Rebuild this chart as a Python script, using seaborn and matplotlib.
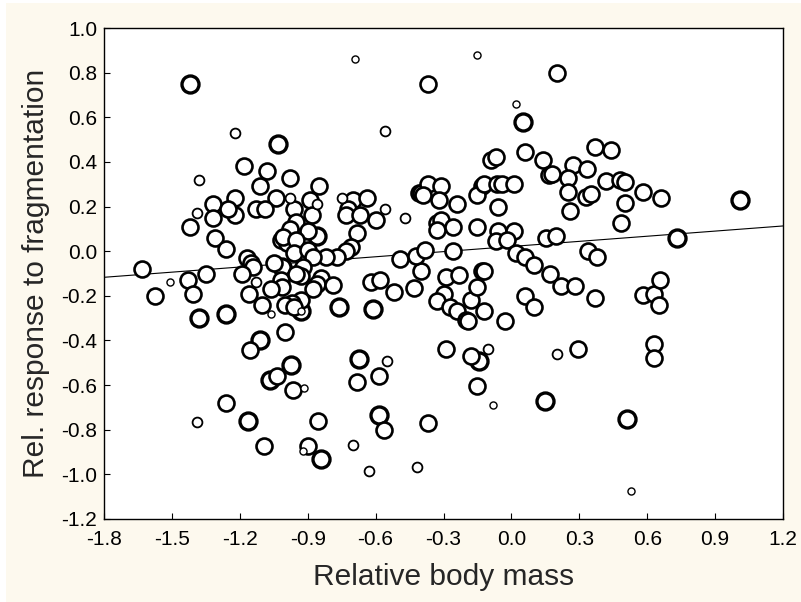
import numpy as np
import pandas as pd
import matplotlib
matplotlib.use('Agg')
import matplotlib.pyplot as plt
from matplotlib.patches import Rectangle
import seaborn as sns

# values, grouped by circle size
large_mass = [-1.42, 0.05, -1.03, -0.86, -1.015, -1.38, -1.26, -0.93, -0.76, -0.61, -1.11,
              -0.975, -1.065, -1.165, -0.84, -0.675, -0.585, -0.145, 1.01, 0.73, 0.15, 0.51]
large_resp = [0.75, 0.58, 0.48, 0.07, -0.07, -0.30, -0.28, -0.27, -0.25, -0.26, -0.40,
              -0.51, -0.575, -0.76, -0.93, -0.485, -0.735, -0.49, 0.23, 0.06, -0.67, -0.75]

medium_mass = [
    -0.37, 0.20,
    -1.18, -1.08, -0.98, -1.11, -0.85, -1.04, -1.22, -0.89, -1.32, -1.32, -1.42, -1.22,
    -1.25, -1.13, -1.09, -0.96, -0.95, -0.88, -0.98, -1.02, -0.90, -1.31, -1.26, -0.70,
    -0.64, -0.72, -0.73, -0.67, -0.60, -0.68, -0.71, -0.73, -0.99, -1.01, -0.95, -0.96,
    -0.90, -0.77, -0.82, -0.875,
    -1.63, -1.43, -1.35, -1.17, -1.15, -1.14, -1.19, -1.05, -1.02, -1.015, -1.06, -0.92,
    -0.93, -0.95, -0.84, -0.86, -0.79, -0.875, -0.93, -0.97, -1.575, -1.405, -1.16, -1.10,
    -1.00, -0.96, -1.00, -1.155, -1.035, -0.965, -1.26, -0.855, -1.095, -0.90, -0.585,
    -0.68, -0.565,
    -0.62, -0.58, -0.52, -0.49, -0.43, -0.40, -0.42, -0.38, -0.41, -0.40, -0.37, -0.31,
    -0.32, -0.39, -0.24, -0.33, -0.31, -0.33, -0.26, -0.15, -0.13, -0.15, -0.09, -0.26,
    -0.29, -0.23, -0.30, -0.33, -0.27, -0.24, -0.18, -0.20, -0.15, -0.13, -0.12, -0.12,
    -0.065, -0.04, 0.01, -0.06, -0.06, 0.01, -0.07, -0.02, 0.02, 0.06, 0.10, -0.12,
    -0.03, -0.07, -0.29, -0.18, -0.15, -0.37, -0.19,
    0.06, 0.14, 0.37, 0.44, 0.27, 0.335, 0.165, 0.18, 0.25, 0.42, 0.48, 0.50, 0.58, 0.66,
    0.25, 0.33, 0.35, 0.50, 0.26, 0.485, 0.155, 0.195, 0.34, 0.38, 0.17, 0.22, 0.28, 0.06,
    0.10, 0.37, 0.58, 0.63, 0.655, 0.65, 0.63, 0.63, 0.295,
]
medium_resp = [
    0.75, 0.80,
    0.38, 0.36, 0.33, 0.29, 0.29, 0.24, 0.24, 0.23, 0.21, 0.15, 0.11, 0.16,
    0.19, 0.19, 0.19, 0.19, 0.13, 0.16, 0.10, 0.05, 0.09, 0.06, 0.01, 0.23,
    0.24, 0.19, 0.16, 0.16, 0.14, 0.08, 0.02, 0.00, 0.035, 0.065, 0.05, -0.01,
    0.005, -0.025, -0.025, -0.025,
    -0.08, -0.13, -0.10, -0.03, -0.055, -0.07, -0.10, -0.055, -0.13, -0.16, -0.17, -0.07,
    -0.11, -0.10, -0.12, -0.145, -0.15, -0.17, -0.22, -0.23, -0.20, -0.19, -0.19, -0.24,
    -0.24, -0.25, -0.36, -0.445, -0.56, -0.62, -0.68, -0.76, -0.875, -0.875, -0.56,
    -0.585, -0.80,
    -0.14, -0.13, -0.185, -0.035, -0.165, -0.09, -0.02, 0.005, 0.26, 0.26, 0.30, 0.29,
    0.23, 0.25, 0.21, 0.125, 0.14, 0.095, 0.11, 0.11, 0.29, 0.25, 0.41, 0.00,
    -0.115, -0.105, -0.19, -0.225, -0.25, -0.27, -0.22, -0.31, -0.16, -0.09, -0.27, 0.30,
    0.30, 0.30, 0.30, 0.20, 0.09, 0.09, 0.045, 0.05, -0.01, -0.025, -0.06, -0.09,
    -0.315, 0.42, -0.44, -0.47, -0.605, -0.77, -0.315,
    0.445, 0.41, 0.465, 0.455, 0.385, 0.37, 0.34, 0.345, 0.33, 0.315, 0.32, 0.31, 0.265, 0.24,
    0.265, 0.245, 0.255, 0.215, 0.18, 0.125, 0.06, 0.07, 0.00, -0.025, -0.10, -0.155, -0.155, -0.20,
    -0.25, -0.21, -0.195, -0.19, -0.13, -0.24, -0.415, -0.48, -0.44,
]

small_mass = [-1.22, -0.56, -1.38, -0.98, -0.86, -1.39, -0.75, -0.56, -0.47, -1.13,
              -0.55, -0.70, -0.63, -0.105, -0.415, 0.20, -1.39]
small_resp = [0.53, 0.54, 0.32, 0.24, 0.21, 0.17, 0.24, 0.19, 0.15, -0.14,
              -0.49, -0.87, -0.985, -0.44, -0.965, -0.46, -0.765]

tiny_mass = [-0.69, -0.15, 0.02, -1.51, -1.06, -0.93, -0.915, -0.92, -0.08, 0.53]
tiny_resp = [0.86, 0.88, 0.66, -0.14, -0.28, -0.27, -0.615, -0.895, -0.69, -1.075]

# fitted line, end points
line_x = [-1.8, 1.2]
line_y = [-0.117, 0.113]

x_ticks = [-1.8, -1.5, -1.2, -0.9, -0.6, -0.3, 0.0, 0.3, 0.6, 0.9, 1.2]
y_ticks = [1.0, 0.8, 0.6, 0.4, 0.2, 0.0, -0.2, -0.4, -0.6, -0.8, -1.0, -1.2]

groups = [
    ('large', large_mass, large_resp, 150, 2.4),
    ('medium', medium_mass, medium_resp, 132, 1.9),
    ('small', small_mass, small_resp, 50, 1.3),
    ('tiny', tiny_mass, tiny_resp, 26, 1.0),
]

sns.set_style('white')
plt.rcParams['font.family'] = ['Liberation Sans', 'DejaVu Sans']

fig = plt.figure(figsize=(8.01, 6.02), dpi=100, facecolor='white')
fig.patches.append(Rectangle((6 / 801, 0), 1 - 6 / 801, 1 - 3 / 602,
                             transform=fig.transFigure, facecolor='#FDF9EE',
                             edgecolor='none', zorder=-10))
ax = fig.add_axes([104 / 801, 83 / 602, 679 / 801, 491 / 602])
ax.set_facecolor('white')

sns.lineplot(x=line_x, y=line_y, color='black', linewidth=0.8, ax=ax, zorder=1)

for name, xs, ys, s, lw in groups:
    df = pd.DataFrame({'mass': xs, 'resp': ys})
    sns.scatterplot(data=df, x='mass', y='resp', s=s,
                    facecolor='white', edgecolor='black', linewidth=lw,
                    ax=ax, zorder=3, legend=False)

ax.set_xlim(-1.8, 1.2)
ax.set_ylim(-1.2, 1.0)
ax.set_xticks(x_ticks)
ax.set_xticklabels([f'{v:.1f}' for v in x_ticks])
ax.set_yticks(y_ticks)
ax.set_yticklabels([f'{v:.1f}' for v in y_ticks])
ax.tick_params(direction='in', length=4, width=0.8, labelsize=15,
               colors='black', bottom=True, left=True)
ax.tick_params(axis='x', pad=8)
ax.tick_params(axis='y', pad=5)
for sp in ax.spines.values():
    sp.set_visible(True)
    sp.set_color('black')
    sp.set_linewidth(1.0)

ax.set_xlabel('Relative body mass', fontsize=21.5, labelpad=10)
ax.set_ylabel('Rel. response to fragmentation', fontsize=21.5, labelpad=8)

fig.savefig('out.png', dpi=100, facecolor=fig.get_facecolor())
